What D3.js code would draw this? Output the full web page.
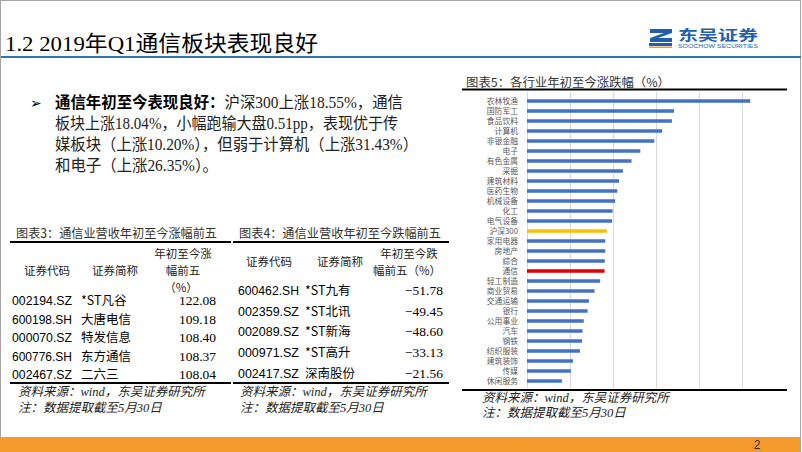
<!DOCTYPE html>
<html><head><meta charset="utf-8">
<script src="https://cdn.jsdelivr.net/npm/d3@7"></script>
<style>
html,body{margin:0;padding:0;background:#fff;}
svg{display:block;}
</style></head>
<body>
<svg id="c" width="802" height="452"></svg>
<script>
// ---------- data ----------
const industries = ["农林牧渔","国防军工","食品饮料","计算机","非银金融","电子","有色金属","采掘","建筑材料","医药生物","机械设备","化工","电气设备","沪深300","家用电器","房地产","综合","通信","轻工制造","商业贸易","交通运输","银行","公用事业","汽车","钢铁","纺织服装","建筑装饰","传媒","休闲服务"];
const changes = [51.9,34.2,33.7,31.43,29.6,26.35,24.3,22.3,21.4,21.0,20.5,19.9,19.8,18.55,18.2,18.2,18.1,18.04,17.0,15.7,14.4,14.1,13.2,12.9,12.8,12.3,10.7,10.20,8.1];
const gridTicks = [0,10,20,30,40,50];

const upCodes = ["002194.SZ","600198.SH","000070.SZ","600776.SH","002467.SZ"];
const upNames = ["*ST凡谷","大唐电信","特发信息","东方通信","二六三"];
const upValues = [122.08,109.18,108.40,108.37,108.04];

const downCodes = ["600462.SH","002359.SZ","002089.SZ","000971.SZ","002417.SZ"];
const downNames = ["*ST九有","*ST北讯","*ST新海","*ST高升","深南股份"];
const downValues = [-51.78,-49.45,-48.60,-33.13,-21.56];

// ---------- drawing ----------
const svg = d3.select("#c");
const CJK = "'Noto Sans CJK SC', sans-serif";
const SERIF = "'Liberation Serif','DejaVu Serif', 'Noto Sans CJK SC', serif";
const SANS = "'Liberation Sans', Arial, sans-serif";

// slide frame
svg.append("rect").attr("x",0.5).attr("y",0.5).attr("width",800).attr("height",451)
  .attr("fill","none").attr("stroke","#a6a6a6").attr("stroke-width",1);

// title
svg.append("text").attr("x",5).attr("y",51)
  .attr("font-family",SERIF).attr("font-size",22).attr("fill","#000")
  .attr("textLength",313).attr("lengthAdjust","spacingAndGlyphs")
  .text("1.2 2019年Q1通信板块表现良好");
svg.append("line").attr("x1",1).attr("x2",801).attr("y1",57).attr("y2",57)
  .attr("stroke","#2e75b6").attr("stroke-width",2);

// logo
const logo = svg.append("g");
logo.append("path").attr("d","M650,29 L672,29 L672,33 L658,38 L672,38 L672,42 L650,42 L650,38 L664,33 L650,33 Z")
  .attr("fill","#1f5fae");
logo.append("rect").attr("x",649).attr("y",43).attr("width",23).attr("height",3).attr("fill","#1f5fae");
logo.append("rect").attr("x",649).attr("y",46.5).attr("width",23).attr("height",1.5).attr("fill","#f39a2c");
logo.append("text").attr("x",678).attr("y",40).attr("font-family",CJK).attr("font-weight","bold")
  .attr("font-size",14).attr("fill","#1f5fae").attr("textLength",80).attr("lengthAdjust","spacingAndGlyphs").text("东吴证券");
logo.append("text").attr("x",678).attr("y",47.5).attr("font-family",SANS)
  .attr("font-size",5.5).attr("fill","#1f5fae").attr("textLength",80).attr("lengthAdjust","spacingAndGlyphs").text("SOOCHOW SECURITIES");

// bullet text
svg.append("text").attr("x",30).attr("y",108).attr("font-family","'DejaVu Sans',sans-serif")
  .attr("font-size",14).attr("fill","#000").text("➢");
const bl = [
  {y:108, w:348, parts:[{t:"通信年初至今表现良好：",b:true},{t:"沪深300上涨18.55%，通信"}]},
  {y:129, w:343, parts:[{t:"板块上涨18.04%，小幅跑输大盘0.51pp，表现优于传"}]},
  {y:150, w:363, parts:[{t:"媒板块（上涨10.20%），但弱于计算机（上涨31.43%）"}]},
  {y:171, w:163, parts:[{t:"和电子（上涨26.35%）。"}]}
];
bl.forEach(l=>{
  const t = svg.append("text").attr("x",55).attr("y",l.y).attr("font-family",SERIF)
    .attr("font-size",16).attr("fill","#222").attr("textLength",l.w).attr("lengthAdjust","spacingAndGlyphs");
  l.parts.forEach(p=>t.append("tspan").attr("font-weight",p.b?"bold":"normal")
    .attr("font-family",p.b?CJK:SERIF).attr("fill",p.b?"#000":"#222").text(p.t));
});

// ---------- tables ----------
function drawTable(cfg){
  const g = svg.append("g");
  g.append("text").attr("x",cfg.titleX).attr("y",238).attr("font-family",CJK).attr("font-size",12.5)
    .attr("fill","#333").attr("textLength",cfg.titleW).attr("lengthAdjust","spacingAndGlyphs").text(cfg.title);
  g.append("line").attr("x1",cfg.x0).attr("x2",cfg.x1).attr("y1",242).attr("y2",242).attr("stroke","#000").attr("stroke-width",2);
  g.append("line").attr("x1",cfg.x0).attr("x2",cfg.x1).attr("y1",383).attr("y2",383).attr("stroke","#000").attr("stroke-width",2);
  cfg.headers.forEach(h=>{
    g.append("text").attr("x",h.x).attr("y",h.y).attr("text-anchor","middle").attr("font-family",CJK)
      .attr("font-size",11.5).attr("fill","#222").text(h.t);
  });
  cfg.codes.forEach((c,i)=>{
    const y = cfg.rowY[i];
    g.append("text").attr("x",cfg.codeX).attr("y",y).attr("font-family",SANS).attr("font-size",13.5)
      .attr("fill","#000").attr("textLength",cfg.codeW).attr("lengthAdjust","spacingAndGlyphs").text(c);
    g.append("text").attr("x",cfg.nameX).attr("y",y).attr("font-family",CJK).attr("font-size",12.5)
      .attr("fill","#000").text(cfg.names[i]);
    g.append("text").attr("x",cfg.valX).attr("y",y).attr("text-anchor","end").attr("font-family",SERIF)
      .attr("font-size",13.5).attr("fill","#000").text(d3.format(".2f")(cfg.values[i]).replace("-","−"));
  });
  g.append("text").attr("x",cfg.srcX).attr("y",396).attr("font-family",SERIF).attr("font-style","italic")
    .attr("font-size",12.5).attr("fill","#222").text("资料来源：wind，东吴证券研究所");
  g.append("text").attr("x",cfg.srcX).attr("y",412).attr("font-family",SERIF).attr("font-style","italic")
    .attr("font-size",12.5).attr("fill","#222").text("注：数据提取截至5月30日");
}
drawTable({title:"图表3：通信业营收年初至今涨幅前五", titleX:16, titleW:201, x0:10, x1:231,
  headers:[{t:"证券代码",x:47,y:275},{t:"证券简称",x:115,y:275},{t:"年初至今涨",x:183,y:258},{t:"幅前五",x:183,y:275},{t:"（%）",x:181,y:292}],
  codes:upCodes, names:upNames, values:upValues, rowY:[305,324,342,361,379],
  codeX:12, codeW:60, nameX:81, valX:216, srcX:18});
drawTable({title:"图表4：通信业营收年初至今跌幅前五", titleX:239, titleW:202, x0:233, x1:449,
  headers:[{t:"证券代码",x:269,y:266},{t:"证券简称",x:340,y:266},{t:"年初至今跌",x:409,y:258},{t:"幅前五（%）",x:407,y:275}],
  codes:downCodes, names:downNames, values:downValues, rowY:[295,316,336,357,378],
  codeX:238, codeW:61, nameX:305, valX:443, srcX:240});

// ---------- bar chart ----------
const cg = svg.append("g");
cg.append("text").attr("x",466).attr("y",87).attr("font-family",CJK).attr("font-size",12)
  .attr("fill","#333").attr("textLength",204).attr("lengthAdjust","spacingAndGlyphs").text("图表5：各行业年初至今涨跌幅（%）");
cg.append("line").attr("x1",462).attr("x2",787).attr("y1",89.5).attr("y2",89.5).attr("stroke","#000").attr("stroke-width",2);
cg.append("line").attr("x1",462).attr("x2",787).attr("y1",390).attr("y2",390).attr("stroke","#000").attr("stroke-width",2);

const x = d3.scaleLinear().domain([0,60]).range([527,785]);
const y = d3.scaleBand().domain(industries).range([96,386]).paddingInner(0.65).paddingOuter(0.325);

const grid = cg.append("g").attr("transform","translate(0,92)")
  .call(d3.axisBottom(x).tickValues(gridTicks).tickSize(296).tickFormat(""));
grid.select(".domain").remove();
grid.selectAll(".tick line").attr("stroke","#d9d9d9").attr("stroke-width",1);

const colorOf = d => d==="沪深300" ? "#ffc000" : (d==="通信" ? "#e00000" : "#4472c4");
cg.append("g").selectAll("rect").data(industries).join("rect")
  .attr("x",x(0)).attr("y",d=>y(d))
  .attr("width",(d,i)=>x(changes[i])-x(0)).attr("height",y.bandwidth())
  .attr("fill",colorOf);

const ya = cg.append("g").attr("transform",`translate(${x(0)-8},0)`)
  .call(d3.axisLeft(y).tickSize(0).tickPadding(1));
ya.select(".domain").remove();
ya.selectAll("text").attr("font-family",CJK).attr("font-size",7.8).attr("fill","#595959");

cg.append("text").attr("x",482).attr("y",402).attr("font-family",SERIF).attr("font-style","italic")
  .attr("font-size",12.5).attr("fill","#222").text("资料来源：wind，东吴证券研究所");
cg.append("text").attr("x",482).attr("y",417).attr("font-family",SERIF).attr("font-style","italic")
  .attr("font-size",12.5).attr("fill","#222").text("注：数据提取截至5月30日");

// footer
svg.append("rect").attr("x",0).attr("y",437).attr("width",800).attr("height",15).attr("fill","#f79a2e");
svg.append("text").attr("x",757).attr("y",449).attr("text-anchor","middle").attr("font-family",SANS)
  .attr("font-size",12).attr("fill","#333").text("2");
</script>
</body></html>
